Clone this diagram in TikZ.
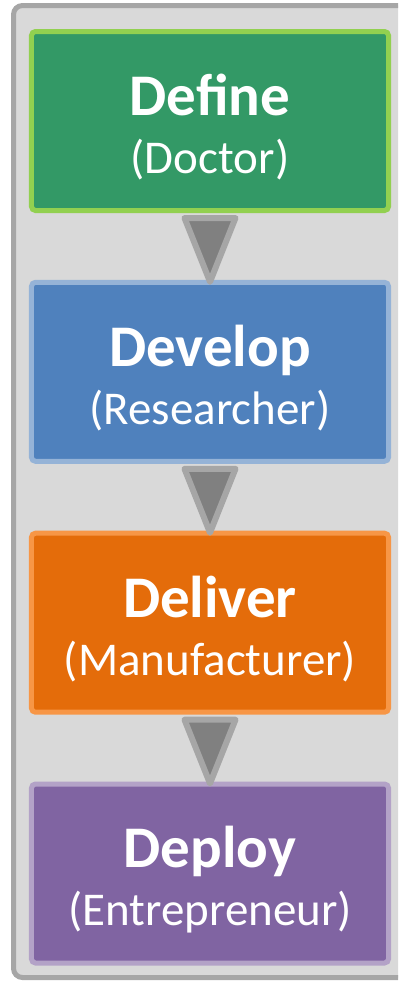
\documentclass[tikz,border=0pt]{standalone}
\usepackage{fontspec}
\setmainfont{Carlito}
\usetikzlibrary{calc}

\definecolor{frameFill}{HTML}{D9D9D9}
\definecolor{frameEdge}{HTML}{A6A6A6}
\definecolor{defineFill}{HTML}{339966}
\definecolor{defineEdge}{HTML}{92D050}
\definecolor{developFill}{HTML}{4F81BD}
\definecolor{developEdge}{HTML}{95B3D7}
\definecolor{deliverFill}{HTML}{E46C0A}
\definecolor{deliverEdge}{HTML}{F79646}
\definecolor{deployFill}{HTML}{8064A2}
\definecolor{deployEdge}{HTML}{B3A2C7}
\definecolor{arrowFill}{HTML}{808080}

% bold stage title, with a tall strut to push the two lines down a bit
\newcommand\stagename[1]{{\fontsize{59bp}{58bp}\selectfont\bfseries\rule{0pt}{54bp}#1}}

\begin{document}
\begin{tikzpicture}[x=1bp, y=-1bp,
	stage/.style={line width=5bp, rounded corners=4bp, minimum width=357bp, minimum height=179bp, inner sep=0pt, align=center, text=white, font=\fontsize{47bp}{58bp}\selectfont},
	flow/.style={draw=frameEdge, fill=arrowFill, line width=6bp, line join=round}]
	\useasboundingbox (0,0) rectangle (398,981);
	\clip (0,0) rectangle (398,981);
	% grey panel behind the four stages
	\draw[line width=5bp, rounded corners=9bp, draw=frameEdge, fill=frameFill] (13.5,5.5) rectangle (420,977.5);

	\node[stage, draw=defineEdge, fill=defineFill] (define) at (210,121) {\stagename{Define}\\(Doctor)};
	\node[stage, draw=developEdge, fill=developFill] (develop) at (210,371.8) {\stagename{Develop}\\(Researcher)};
	\node[stage, draw=deliverEdge, fill=deliverFill] (deliver) at (210,622.7) {\stagename{Deliver}\\(Manufacturer)};
	\node[stage, draw=deployEdge, fill=deployFill] (deploy) at (210,873.5) {\stagename{Deploy}\\(Entrepreneur)};

	% down arrows between the stages
	\draw[flow] ($(define.south)+(-25.5,5)$) -- ($(define.south)+(25.5,5)$) -- ($(develop.north)+(0,2)$) -- cycle;
	\draw[flow] ($(develop.south)+(-25.5,5)$) -- ($(develop.south)+(25.5,5)$) -- ($(deliver.north)+(0,2)$) -- cycle;
	\draw[flow] ($(deliver.south)+(-25.5,5)$) -- ($(deliver.south)+(25.5,5)$) -- ($(deploy.north)+(0,2)$) -- cycle;
\end{tikzpicture}
\end{document}
